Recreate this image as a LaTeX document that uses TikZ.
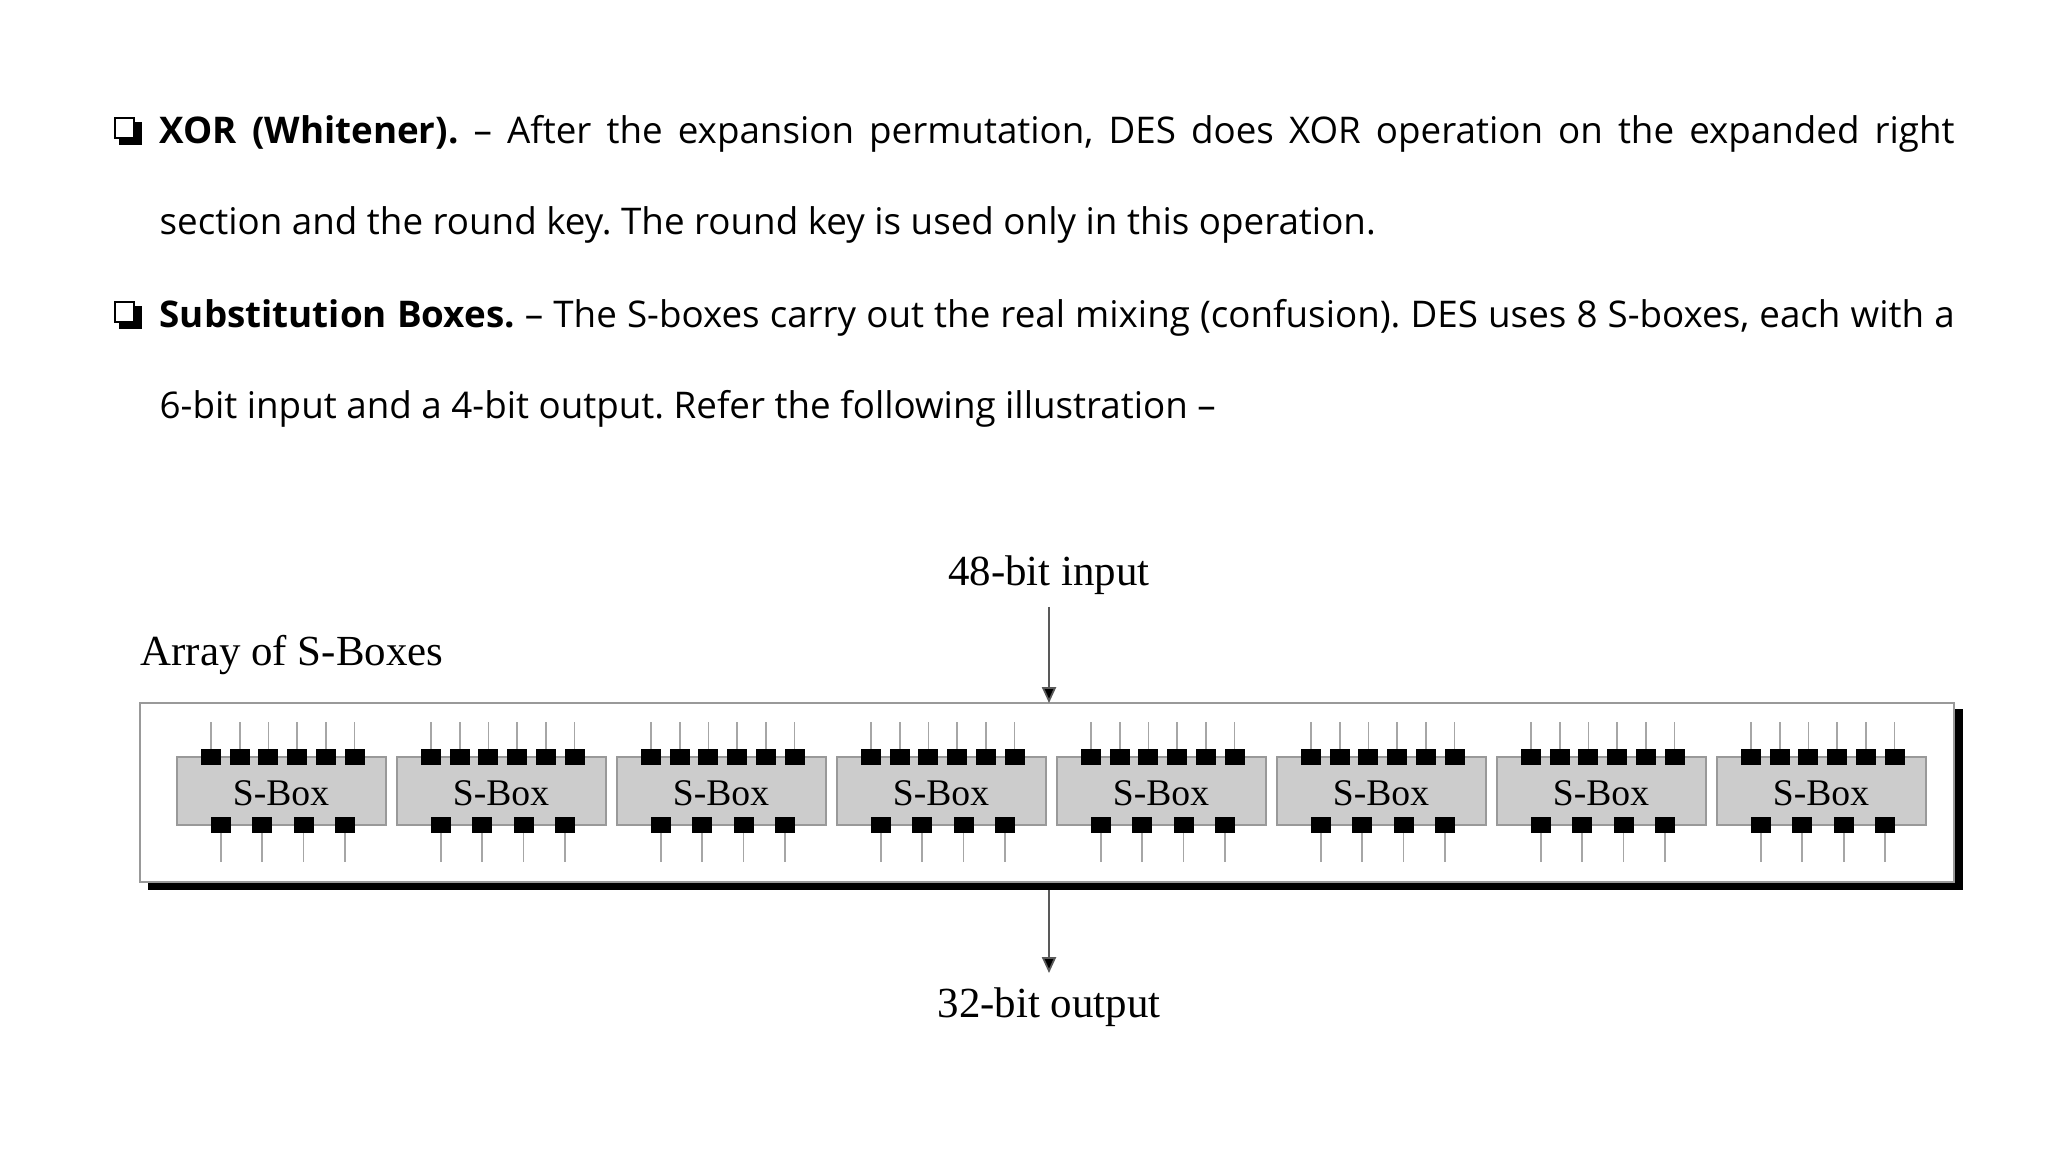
\documentclass[tikz,border=0pt]{standalone}
\usepackage{fontspec}
\setmainfont{Open Sans}
\newfontfamily\serif{Liberation Serif}
\usetikzlibrary{arrows.meta}
\frenchspacing
\begin{document}
\begin{tikzpicture}[x=0.01cm,y=-0.01cm,
  body/.style={anchor=base west,inner sep=0,font=\fontsize{10.45}{12}\selectfont},
  lbl/.style={font=\serif\fontsize{12.2}{14}\selectfont,inner sep=0},
  sbox/.style={draw=gray!80,fill=gray!40,line width=0.5pt},
  pin/.style={fill=black},
  wire/.style={draw=gray!70,line width=0.5pt},
  arr/.style={draw=gray!70!black,line width=0.5pt,-{Triangle[length=4.5pt,width=4pt,fill=black]}}]
\useasboundingbox (0,0) rectangle (2048,1152);
% bullets
\foreach \y/\n in {144/b1,328/b2}{
  \coordinate (\n) at (115,\y);
  \draw[line width=2.2pt] (119,\y-3) -- (138,\y-3) -- (138,\y-22);
  \draw[line width=0.6pt,fill=white] (115,\y-26) rectangle (134,\y-6);
}
\node[body] (t1) at (159,144) {\makebox[510.4pt][s]{\textbf{XOR (Whitener).} – After the expansion permutation, DES does XOR operation on the expanded right}};
\node[body] (t2) at (159,235) {section and the round key. The round key is used only in this operation.};
\node[body] (t3) at (159,328) {\makebox[510.4pt][s]{\textbf{Substitution Boxes.} – The S-boxes carry out the real mixing (confusion). DES uses 8 S-boxes, each with a}};
\node[body] (t4) at (159,419) {6-bit input and a 4-bit output. Refer the following illustration –};
% diagram
\node[lbl] (in) at (1049,575) {48-bit input};
\node[lbl,anchor=west] (arrlbl) at (140,655) {Array of S-Boxes};
\fill (148,882) rectangle (1963,890);
\fill (1954,709) rectangle (1963,890);
\draw[gray!80,line width=0.8pt,fill=white] (140,703) rectangle (1954,882);
\coordinate (top) at (1049,703);
\coordinate (bot) at (1049,890);
\coordinate (intail) at (1049,607);
\coordinate (outhead) at (1049,973);
\draw[arr] (intail) -- (top);
\node[lbl] (out) at (1049,1007) {32-bit output};
\draw[arr] (bot) -- (outhead);
\foreach \i in {0,...,7}{
  \pgfmathsetmacro\L{177+220*\i}
  \draw[sbox] (\L,757) rectangle (\L+209,825);
  \node[font=\serif\fontsize{10.7}{12}\selectfont,inner sep=0] (s\i) at (\L+104,793) {S-Box};
  \foreach \j in {0,...,5}{
    \pgfmathsetmacro\c{\L+34+28.7*\j}
    \draw[wire] (\c,722) -- (\c,749);
    \fill[pin] (\c-10,749) rectangle (\c+10,765);
  }
  \foreach \j in {0,...,3}{
    \pgfmathsetmacro\c{\L+44+41.3*\j}
    \draw[wire] (\c,833) -- (\c,862);
    \fill[pin] (\c-10,817) rectangle (\c+10,833);
  }
}
\end{tikzpicture}
\end{document}
